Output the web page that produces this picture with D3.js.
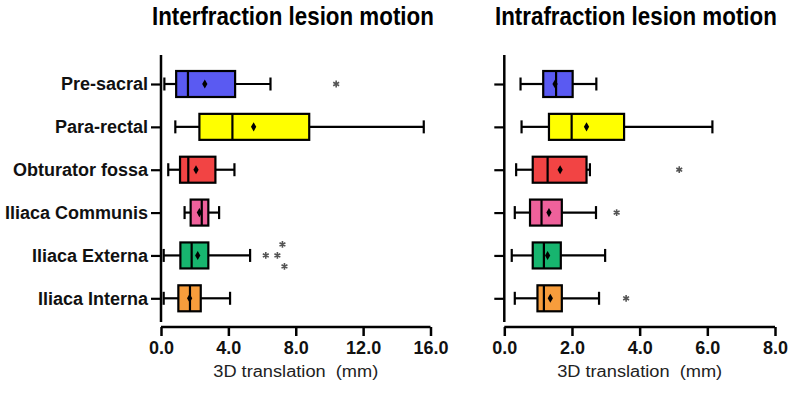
<!DOCTYPE html>
<html>
<head>
<meta charset="utf-8">
<script src="https://cdn.jsdelivr.net/npm/d3@7"></script>
<style>
  body { margin: 0; background: #fff; }
  svg text { font-family: "Liberation Sans", Arial, sans-serif; }
</style>
</head>
<body>
<div id="chart"></div>
<script>
// categories, top to bottom
var categories = ["Pre-sacral", "Para-rectal", "Obturator fossa", "Iliaca Communis", "Iliaca Externa", "Iliaca Interna"];
var colors = ["#5a5af2", "#ffff00", "#f24444", "#ef619b", "#17b56f", "#f79d3c"];

// interfraction (mm)
var interLow  = [0.2, 0.85, 0.43, 1.4, 0.16, 0.16];
var interQ1   = [0.9, 2.28, 1.13, 1.76, 1.15, 1.03];
var interMed  = [1.6, 4.24, 1.62, 2.42, 1.82, 1.72];
var interQ3   = [4.4, 8.8, 3.23, 2.81, 2.81, 2.36];
var interHigh = [6.5, 15.6, 4.36, 3.45, 5.29, 4.1];
var interMean = [2.6, 5.5, 2.08, 2.28, 2.18, 1.7];
var interOut  = [["Pre-sacral", 10.4], ["Iliaca Externa", 6.22], ["Iliaca Externa", 6.91],
                 ["Iliaca Externa", 7.21], ["Iliaca Externa", 7.33]];
var interTicks = [0, 4, 8, 12, 16];

// intrafraction (mm)
var intraLow  = [0.48, 0.51, 0.35, 0.31, 0.22, 0.31];
var intraQ1   = [1.15, 1.32, 0.84, 0.76, 0.84, 0.98];
var intraMed  = [1.53, 1.99, 1.28, 1.1, 1.17, 1.17];
var intraQ3   = [2.02, 3.54, 2.43, 1.7, 1.67, 1.7];
var intraHigh = [2.72, 6.15, 2.53, 2.71, 2.98, 2.8];
var intraMean = [1.5, 2.43, 1.65, 1.32, 1.28, 1.36];
var intraOut  = [["Obturator fossa", 5.17], ["Iliaca Communis", 3.32], ["Iliaca Interna", 3.6]];
var intraTicks = [0, 2, 4, 6, 8];

var svg = d3.select("#chart").append("svg")
    .attr("width", 789).attr("height", 395);

var y = d3.scalePoint().domain(categories).range([84, 298.3]);

function panel(opt) {
    var x = d3.scaleLinear().domain([0, opt.max]).range([opt.x0, opt.x1]);
    var g = svg.append("g");

    // title, squeezed horizontally like a narrow bold face
    var t = g.append("text")
        .style("font-weight", "bold").style("font-size", "25px")
        .text(opt.title);
    var w = t.node().getComputedTextLength();
    t.attr("transform", "translate(" + opt.tx + ",25) scale(" + (282 / w) + ",1)");

    // y axis
    var ya = g.append("g").attr("transform", "translate(" + opt.x0 + ",0)")
        .call(d3.axisLeft(y).tickSize(10).tickPadding(3).tickFormat(opt.labels ? null : ""));
    ya.select(".domain").remove();
    ya.selectAll(".tick line").attr("stroke", "#000").attr("stroke-width", 2.2);
    ya.selectAll(".tick text").style("font-size", "18px").style("font-weight", "bold")
        .attr("fill", "#111");
    g.append("line").attr("x1", opt.x0).attr("x2", opt.x0).attr("y1", 55).attr("y2", 322)
        .attr("stroke", "#000").attr("stroke-width", 2.5);

    // x axis
    var xa = g.append("g").attr("transform", "translate(0,327)")
        .call(d3.axisBottom(x).tickValues(opt.ticks).tickSize(9).tickPadding(5)
            .tickFormat(d3.format(".1f")));
    xa.select(".domain").attr("stroke-width", 2.5).attr("d", "M" + opt.x0 + ",0H" + opt.x1);
    xa.selectAll(".tick line").attr("stroke-width", 2.5);
    xa.selectAll(".tick text").style("font-size", "18px").style("font-weight", "bold")
        .attr("fill", "#111");

    g.append("text")
        .attr("x", (opt.x0 + opt.x1) / 2).attr("y", 377)
        .attr("text-anchor", "middle")
        .attr("textLength", 165).attr("lengthAdjust", "spacingAndGlyphs")
        .style("font-size", "16px").style("white-space", "pre").attr("fill", "#222")
        .text("3D translation  (mm)");

    var d = opt.data;
    var boxH = 26, capH = 13;
    var rows = g.selectAll(".row").data(categories).enter().append("g");
    rows.each(function (c, i) {
        var r = d3.select(this), cy = y(c);
        // whiskers
        r.append("line").attr("x1", x(d.low[i])).attr("x2", x(d.q1[i]))
            .attr("y1", cy).attr("y2", cy).attr("stroke", "#000").attr("stroke-width", 2.2);
        r.append("line").attr("x1", x(d.q3[i])).attr("x2", x(d.high[i]))
            .attr("y1", cy).attr("y2", cy).attr("stroke", "#000").attr("stroke-width", 2.2);
        [d.low[i], d.high[i]].forEach(function (v) {
            r.append("line").attr("x1", x(v)).attr("x2", x(v))
                .attr("y1", cy - capH / 2).attr("y2", cy + capH / 2)
                .attr("stroke", "#000").attr("stroke-width", 2.2);
        });
        // box
        r.append("rect").attr("x", x(d.q1[i])).attr("y", cy - boxH / 2)
            .attr("width", x(d.q3[i]) - x(d.q1[i])).attr("height", boxH)
            .attr("fill", colors[i]).attr("stroke", "#000").attr("stroke-width", 2.2);
        r.append("line").attr("x1", x(d.med[i])).attr("x2", x(d.med[i]))
            .attr("y1", cy - boxH / 2).attr("y2", cy + boxH / 2)
            .attr("stroke", "#000").attr("stroke-width", 2.2);
        // mean
        r.append("path").attr("d", d3.symbol(d3.symbolDiamond, 24)())
            .attr("transform", "translate(" + x(d.mean[i]) + "," + cy + ")")
            .attr("fill", "#000");
    });

    // outliers, nudged vertically when they collide
    var placed = [];
    d.out.forEach(function (o) {
        var px = x(o[1]), base = y(o[0]), py = base;
        var tries = [0, -11, 11, -22, 22];
        for (var k = 0; k < tries.length; k++) {
            py = base + tries[k];
            var clash = placed.some(function (p) {
                return Math.abs(p[1] - py) < 4 && Math.abs(p[0] - px) < 8;
            });
            if (!clash) break;
        }
        placed.push([px, py]);
        g.append("path").attr("d", d3.symbol(d3.symbolAsterisk, 32)())
            .attr("transform", "translate(" + px + "," + py + ")")
            .attr("fill", "none").attr("stroke", "#555").attr("stroke-width", 1.6);
    });
}

panel({
    title: "Interfraction lesion motion", tx: 152, x0: 161, x1: 430.5, max: 16,
    ticks: interTicks, labels: true,
    data: { low: interLow, q1: interQ1, med: interMed, q3: interQ3, high: interHigh,
            mean: interMean, out: interOut }
});
panel({
    title: "Intrafraction lesion motion", tx: 495, x0: 504.3, x1: 775, max: 8,
    ticks: intraTicks, labels: false,
    data: { low: intraLow, q1: intraQ1, med: intraMed, q3: intraQ3, high: intraHigh,
            mean: intraMean, out: intraOut }
});
</script>
</body>
</html>
